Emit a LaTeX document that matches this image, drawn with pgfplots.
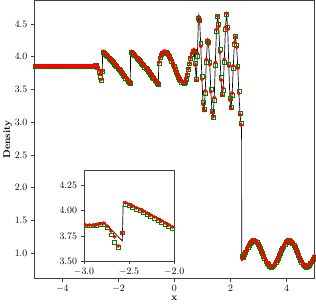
\documentclass[border=0pt]{standalone}
\usepackage{pgfplots}
\usepackage{pgfplotstable}
\pgfplotsset{compat=1.18}
\definecolor{mplgreen}{rgb}{0,0.5,0}
\pgfplotstableread{
x y
-5.000 3.857
-2.860 3.857
-2.830 3.868
-2.800 3.875
-2.770 3.872
-2.740 3.850
-2.575 3.700
-2.565 4.090
-2.466 4.049
-2.367 4.006
-2.268 3.961
-2.169 3.914
-2.070 3.865
-1.971 3.814
-1.872 3.761
-1.773 3.706
-1.674 3.649
-1.575 3.590
-1.565 4.090
-1.466 4.048
-1.367 4.004
-1.268 3.958
-1.169 3.910
-1.070 3.860
-0.971 3.808
-0.872 3.754
-0.773 3.698
-0.674 3.640
-0.575 3.580
-0.560 3.880
-0.520 3.970
-0.480 4.020
-0.440 4.055
-0.400 4.075
-0.360 4.085
-0.290 4.073
-0.220 4.040
-0.150 3.987
-0.080 3.921
-0.010 3.848
0.060 3.774
0.130 3.708
0.200 3.655
0.270 3.622
0.340 3.610
0.400 3.643
0.460 3.735
0.520 3.860
0.580 3.985
0.640 4.077
0.700 4.110
0.740 3.875
0.780 3.640
0.820 4.053
0.860 4.610
0.870 4.640
0.900 4.541
0.940 4.156
0.980 3.654
1.020 3.269
1.050 3.170
1.060 3.184
1.100 3.481
1.140 3.959
1.180 4.256
1.190 4.270
1.220 4.190
1.260 3.875
1.300 3.465
1.340 3.150
1.370 3.070
1.380 3.083
1.420 3.378
1.460 3.916
1.500 4.418
1.540 4.620
1.580 4.461
1.620 4.066
1.660 3.643
1.700 3.410
1.710 3.400
1.740 3.520
1.780 3.964
1.820 4.451
1.860 4.660
1.900 4.418
1.940 3.853
1.980 3.339
2.010 3.200
2.020 3.211
2.060 3.446
2.100 3.863
2.140 4.216
2.170 4.310
2.180 4.303
2.220 4.144
2.260 3.822
2.300 3.438
2.340 3.116
2.380 2.957
2.395 2.950
2.400 0.893
2.420 0.910
2.460 0.947
2.500 0.987
2.540 1.027
2.580 1.066
2.620 1.102
2.660 1.134
2.700 1.161
2.740 1.181
2.780 1.194
2.820 1.200
2.860 1.197
2.900 1.187
2.940 1.169
2.980 1.145
3.020 1.114
3.060 1.079
3.100 1.041
3.140 1.002
3.180 0.962
3.220 0.924
3.260 0.888
3.300 0.858
3.340 0.833
3.380 0.814
3.420 0.803
3.460 0.800
3.500 0.805
3.540 0.817
3.580 0.837
3.620 0.864
3.660 0.896
3.700 0.932
3.740 0.970
3.780 1.010
3.820 1.050
3.860 1.087
3.900 1.121
3.940 1.150
3.980 1.174
4.020 1.190
4.060 1.199
4.100 1.199
4.140 1.192
4.180 1.177
4.220 1.156
4.260 1.127
4.300 1.094
4.340 1.057
4.380 1.018
4.420 0.978
4.460 0.939
4.500 0.903
4.540 0.870
4.580 0.842
4.620 0.821
4.660 0.807
4.700 0.800
4.740 0.802
4.780 0.811
4.820 0.828
4.860 0.852
4.900 0.882
4.940 0.916
4.980 0.954
5.000 0.974
}\refdata
\pgfplotstableread{
x red green
-4.98 3.857 3.850
-4.94 3.857 3.850
-4.90 3.857 3.850
-4.86 3.857 3.850
-4.82 3.857 3.850
-4.78 3.857 3.850
-4.74 3.857 3.850
-4.70 3.857 3.850
-4.66 3.857 3.850
-4.62 3.857 3.850
-4.58 3.857 3.850
-4.54 3.857 3.850
-4.50 3.857 3.850
-4.46 3.857 3.850
-4.42 3.857 3.850
-4.38 3.857 3.850
-4.34 3.857 3.850
-4.30 3.857 3.850
-4.26 3.857 3.850
-4.22 3.857 3.850
-4.18 3.857 3.850
-4.14 3.857 3.850
-4.10 3.857 3.850
-4.06 3.857 3.850
-4.02 3.857 3.850
-3.98 3.857 3.850
-3.94 3.857 3.850
-3.90 3.857 3.850
-3.86 3.857 3.850
-3.82 3.857 3.850
-3.78 3.857 3.850
-3.74 3.857 3.850
-3.70 3.857 3.850
-3.66 3.857 3.850
-3.62 3.857 3.850
-3.58 3.857 3.850
-3.54 3.857 3.850
-3.50 3.857 3.850
-3.46 3.857 3.850
-3.42 3.857 3.850
-3.38 3.857 3.850
-3.34 3.857 3.850
-3.30 3.857 3.850
-3.26 3.857 3.850
-3.22 3.857 3.850
-3.18 3.857 3.850
-3.14 3.857 3.850
-3.10 3.857 3.850
-3.06 3.857 3.850
-3.02 3.857 3.850
-2.98 3.857 3.850
-2.94 3.857 3.850
-2.90 3.857 3.850
-2.86 3.862 3.855
-2.82 3.870 3.862
-2.78 3.876 3.868
-2.74 3.845 3.830
-2.70 3.800 3.760
-2.66 3.740 3.690
-2.62 3.650 3.640
-2.58 3.780 3.780
-2.54 4.080 4.068
-2.50 4.063 4.051
-2.46 4.046 4.034
-2.42 4.029 4.017
-2.38 4.012 4.000
-2.34 3.994 3.982
-2.30 3.976 3.964
-2.26 3.957 3.945
-2.22 3.938 3.926
-2.18 3.919 3.907
-2.14 3.900 3.888
-2.10 3.880 3.868
-2.06 3.860 3.848
-2.02 3.839 3.827
-1.98 3.819 3.807
-1.94 3.798 3.786
-1.90 3.776 3.764
-1.86 3.754 3.742
-1.82 3.732 3.720
-1.78 3.710 3.698
-1.74 3.687 3.675
-1.70 3.664 3.652
-1.66 3.641 3.629
-1.62 3.617 3.605
-1.58 3.599 3.587
-1.54 4.080 4.068
-1.50 4.063 4.051
-1.46 4.045 4.033
-1.42 4.028 4.016
-1.38 4.010 3.998
-1.34 3.992 3.980
-1.30 3.973 3.961
-1.26 3.954 3.942
-1.22 3.935 3.923
-1.18 3.916 3.904
-1.14 3.896 3.884
-1.10 3.875 3.863
-1.06 3.855 3.843
-1.02 3.834 3.822
-0.98 3.813 3.801
-0.94 3.791 3.779
-0.90 3.770 3.758
-0.86 3.747 3.735
-0.82 3.725 3.713
-0.78 3.702 3.690
-0.74 3.679 3.667
-0.70 3.655 3.643
-0.66 3.632 3.620
-0.62 3.608 3.596
-0.58 3.589 3.577
-0.54 3.920 3.900
-0.50 3.995 3.983
-0.46 4.040 4.028
-0.42 4.066 4.054
-0.38 4.081 4.069
-0.34 4.084 4.072
-0.30 4.076 4.064
-0.26 4.061 4.049
-0.22 4.040 4.028
-0.18 4.012 4.000
-0.14 3.979 3.967
-0.10 3.943 3.931
-0.06 3.900 3.888
-0.02 3.858 3.846
0.02 3.816 3.804
0.06 3.774 3.762
0.10 3.735 3.723
0.14 3.699 3.687
0.18 3.669 3.657
0.22 3.643 3.631
0.26 3.624 3.612
0.30 3.614 3.602
0.34 3.610 3.598
0.38 3.625 3.613
0.42 3.668 3.656
0.46 3.735 3.723
0.50 3.817 3.805
0.54 3.903 3.891
0.58 3.985 3.973
0.62 4.052 4.040
0.66 4.095 4.083
0.70 4.110 4.090
0.74 3.875 3.900
0.78 3.640 3.660
0.82 4.053 4.000
0.86 4.610 4.580
0.90 4.541 4.560
0.94 4.156 4.200
0.98 3.654 3.700
1.02 3.269 3.300
1.06 3.184 3.200
1.10 3.481 3.440
1.14 3.959 3.920
1.18 4.256 4.230
1.22 4.190 4.220
1.26 3.875 3.920
1.30 3.465 3.500
1.34 3.150 3.170
1.38 3.083 3.080
1.42 3.378 3.340
1.46 3.916 3.870
1.50 4.418 4.390
1.54 4.620 4.620
1.58 4.461 4.490
1.62 4.066 4.110
1.66 3.643 3.680
1.70 3.410 3.420
1.74 3.520 3.490
1.78 3.964 3.920
1.82 4.451 4.420
1.86 4.660 4.640
1.90 4.418 4.450
1.94 3.853 3.890
1.98 3.339 3.370
2.02 3.211 3.220
2.06 3.446 3.410
2.10 3.863 3.820
2.14 4.216 4.190
2.18 4.303 4.310
2.22 4.144 4.180
2.26 3.822 3.860
2.30 3.438 3.470
2.34 3.116 3.140
2.38 2.957 2.980
2.42 0.910 0.950
2.46 0.947 0.937
2.50 0.987 0.977
2.54 1.027 1.017
2.58 1.066 1.056
2.62 1.102 1.092
2.66 1.134 1.124
2.70 1.161 1.151
2.74 1.181 1.171
2.78 1.194 1.184
2.82 1.200 1.190
2.86 1.197 1.187
2.90 1.187 1.177
2.94 1.169 1.159
2.98 1.145 1.135
3.02 1.114 1.104
3.06 1.079 1.069
3.10 1.041 1.031
3.14 1.002 0.992
3.18 0.962 0.952
3.22 0.924 0.914
3.26 0.888 0.878
3.30 0.858 0.848
3.34 0.833 0.823
3.38 0.814 0.804
3.42 0.803 0.793
3.46 0.800 0.790
3.50 0.805 0.795
3.54 0.817 0.807
3.58 0.837 0.827
3.62 0.864 0.854
3.66 0.896 0.886
3.70 0.932 0.922
3.74 0.970 0.960
3.78 1.010 1.000
3.82 1.050 1.040
3.86 1.087 1.077
3.90 1.121 1.111
3.94 1.150 1.140
3.98 1.174 1.164
4.02 1.190 1.180
4.06 1.199 1.189
4.10 1.199 1.189
4.14 1.192 1.182
4.18 1.177 1.167
4.22 1.156 1.146
4.26 1.127 1.117
4.30 1.094 1.084
4.34 1.057 1.047
4.38 1.018 1.008
4.42 0.978 0.968
4.46 0.939 0.929
4.50 0.903 0.893
4.54 0.870 0.860
4.58 0.842 0.832
4.62 0.821 0.811
4.66 0.807 0.797
4.70 0.800 0.790
4.74 0.802 0.792
4.78 0.811 0.801
4.82 0.828 0.818
4.86 0.852 0.842
4.90 0.882 0.872
4.94 0.916 0.906
4.98 0.954 0.944
}\numdata
\pgfplotsset{
  mystyle/.style={
    scale only axis,
    axis line style={black!75, line width=0.7pt},
    tick align=outside,
    tick pos=left,
    major tick length=3.5pt,
    tick style={black!75, line width=0.6pt},
    clip mode=individual,
  },
  refline/.style={black, line width=0.7pt, no markers},
  greenmk/.style={only marks, mark=square, mark size=2.0pt, mark options={draw=mplgreen, line width=0.6pt, fill=none}},
  redmk/.style={only marks, mark=*, mark size=1.9pt, mark options={draw=red, fill=red, line width=0.2pt}},
}
\begin{document}
\begin{tikzpicture}
\begin{axis}[mystyle,
  width=285pt, height=283pt,
  xmin=-5, xmax=5, ymin=0.61, ymax=4.86,
  xtick={-4,-2,0,2,4},
  ytick={1,1.5,2,2.5,3,3.5,4,4.5},
  yticklabel style={/pgf/number format/.cd, fixed, fixed zerofill, precision=1},
  xlabel={\textbf{x}}, ylabel={\textbf{Density}},
  xlabel style={yshift=3pt}, ylabel style={yshift=-4pt},
]
\addplot[refline] table[x=x, y=y] {\refdata};
\addplot[greenmk] table[x=x, y=green] {\numdata};
\addplot[redmk] table[x=x, y=red] {\numdata};
\end{axis}
\begin{axis}[mystyle,
  at={(50.5pt,18pt)}, anchor=south west,
  width=91.7pt, height=92pt,
  axis background/.style={fill=white},
  xmin=-3, xmax=-2, ymin=3.5, ymax=4.4,
  xtick={-3,-2.5,-2},
  ytick={3.5,3.75,4,4.25},
  xticklabel style={/pgf/number format/.cd, fixed, fixed zerofill, precision=1},
  yticklabel style={/pgf/number format/.cd, fixed, fixed zerofill, precision=2},
]
\addplot[refline] table[x=x, y=y] {\refdata};
\addplot[greenmk] table[x=x, y=green] {\numdata};
\addplot[redmk] table[x=x, y=red] {\numdata};
\end{axis}
\end{tikzpicture}
\end{document}
